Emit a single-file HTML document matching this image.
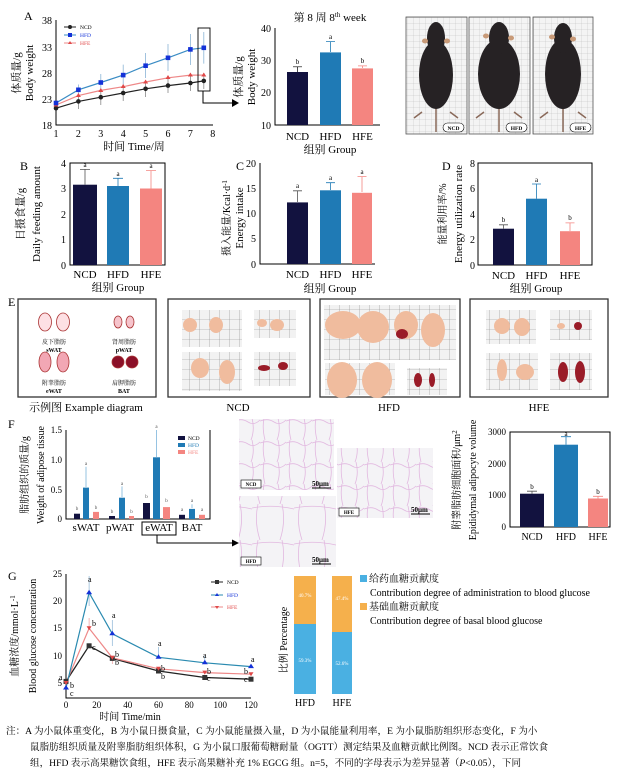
<!DOCTYPE html>
<html><head><meta charset="utf-8"><style>
body{margin:0;background:#fff}
svg{display:block;font-family:"Liberation Serif","Noto Serif CJK SC",serif}
</style></head><body>
<svg width="620" height="774" viewBox="0 0 620 774" xmlns="http://www.w3.org/2000/svg">
<defs>
<pattern id="grid" width="10" height="10" patternUnits="userSpaceOnUse"><rect width="10" height="10" fill="#f2f2f2"/><path d="M10 0V10H0" fill="none" stroke="#888" stroke-width="0.6"/></pattern>
<pattern id="mgrid" width="6" height="6" patternUnits="userSpaceOnUse"><rect width="6" height="6" fill="#f4f4f4"/><path d="M6 0V6H0" fill="none" stroke="#bbb" stroke-width="0.5"/></pattern>
<pattern id="cells" width="26" height="22" patternUnits="userSpaceOnUse"><rect width="26" height="22" fill="#f4f3f6"/><path d="M0 3Q8 0 14 4T26 2M4 0Q2 10 5 22M18 0Q21 12 17 22" fill="none" stroke="#e2b8e0" stroke-width="0.8"/></pattern>
<pattern id="cells2" width="42" height="36" patternUnits="userSpaceOnUse"><rect width="42" height="36" fill="#f4f3f6"/><path d="M0 4Q20 0 42 5M6 0Q2 18 8 36M30 0Q34 18 28 36" fill="none" stroke="#e2b8e0" stroke-width="0.8"/></pattern>
</defs>
<g font-size="11" fill="#000">
<!-- Panel A line -->
<text x="24" y="20" font-size="12">A</text>
<g stroke="#000" stroke-width="1" fill="none"><path d="M56 20V125H213"/></g>
<g font-size="10" text-anchor="end"><text x="52" y="24">38</text><text x="52" y="51">33</text><text x="52" y="77">28</text><text x="52" y="103">23</text><text x="52" y="129">18</text></g>
<g font-size="10" text-anchor="middle"><text x="56" y="137">1</text><text x="78.4" y="137">2</text><text x="100.8" y="137">3</text><text x="123.2" y="137">4</text><text x="145.6" y="137">5</text><text x="168" y="137">6</text><text x="190.4" y="137">7</text><text x="212.8" y="137">8</text></g>
<text x="134" y="150" text-anchor="middle">时间 Time/周</text>
<text transform="translate(20,73) rotate(-90)" text-anchor="middle">体质量/g</text>
<text transform="translate(33,73) rotate(-90)" text-anchor="middle">Body weight</text>
<g stroke="#8ab4d6" stroke-width="0.8"><path d="M78.4 84.5V95M100.8 74V91M123.2 64.6V85.6M145.6 53V78M168 44V71M190.4 34V65M203.8 32V63.6"/></g>
<g stroke="#888" stroke-width="0.8"><path d="M78.4 93.5V109M100.8 89V105M123.2 85V101M145.6 81V97M168 78V93M190.4 75V91M203.8 73V89"/></g>
<polyline points="56,108.2 78.4,101.4 100.8,97.2 123.2,93 145.6,88.8 168,85.6 190.4,83 203.8,80.9" fill="none" stroke="#222" stroke-width="1.2"/>
<polyline points="56,105 78.4,95.6 100.8,90.4 123.2,86.7 145.6,82 168,77.8 190.4,75.1 203.8,75.1" fill="none" stroke="#e88" stroke-width="1.2"/>
<polyline points="56,103 78.4,89.8 100.8,82.5 123.2,75.1 145.6,65.7 168,57.8 190.4,49.4 203.8,47.8" fill="none" stroke="#3a8cc4" stroke-width="1.2"/>
<g fill="#222"><circle cx="56" cy="108.2" r="2.3"/><circle cx="78.4" cy="101.4" r="2.3"/><circle cx="100.8" cy="97.2" r="2.3"/><circle cx="123.2" cy="93" r="2.3"/><circle cx="145.6" cy="88.8" r="2.3"/><circle cx="168" cy="85.6" r="2.3"/><circle cx="190.4" cy="83" r="2.3"/><circle cx="203.8" cy="80.9" r="2.3"/></g>
<g fill="#e04848"><path d="M56 102.5l2.5 4h-5zM78.4 93l2.5 4h-5zM100.8 88l2.5 4h-5zM123.2 84l2.5 4h-5zM145.6 79.5l2.5 4h-5zM168 75l2.5 4h-5zM190.4 72.5l2.5 4h-5zM203.8 72.5l2.5 4h-5z"/></g>
<g fill="#1432d8"><rect x="53.7" y="100.7" width="4.6" height="4.6"/><rect x="76.1" y="87.5" width="4.6" height="4.6"/><rect x="98.5" y="80.2" width="4.6" height="4.6"/><rect x="120.9" y="72.8" width="4.6" height="4.6"/><rect x="143.3" y="63.4" width="4.6" height="4.6"/><rect x="165.7" y="55.5" width="4.6" height="4.6"/><rect x="188.1" y="47.1" width="4.6" height="4.6"/><rect x="201.5" y="45.5" width="4.6" height="4.6"/></g>
<g font-size="5.5"><path d="M64 27h12" stroke="#222"/><circle cx="70" cy="27" r="2" fill="#222"/><text x="80" y="29">NCD</text>
<path d="M64 35h12" stroke="#3a8cc4"/><rect x="68" y="33" width="4" height="4" fill="#1432d8"/><text x="80" y="37" fill="#1432d8">HFD</text>
<path d="M64 43h12" stroke="#e88"/><path d="M70 41l2 3h-4z" fill="#e04848"/><text x="80" y="45" fill="#e04848">HFE</text></g>
<rect x="198" y="28" width="12" height="63" fill="none" stroke="#000" stroke-width="0.9"/>
<path d="M203 91V103H233" fill="none" stroke="#000" stroke-width="1"/><path d="M232 99l7 4-7 4z"/>
<!-- week 8 bar -->
<text x="330" y="21" text-anchor="middle" font-size="11">第 8 周  8<tspan font-size="7" dy="-4">th</tspan><tspan dy="4"> week</tspan></text>
<path d="M275 28V125H380" fill="none" stroke="#000"/>
<g font-size="10" text-anchor="end"><text x="271" y="32">40</text><text x="271" y="64">30</text><text x="271" y="96">20</text><text x="271" y="129">10</text></g>
<rect x="287" y="72" width="21" height="53" fill="#12123f"/><rect x="320" y="52.4" width="21" height="72.6" fill="#1f7ab5"/><rect x="352" y="68.4" width="21" height="56.6" fill="#f48580"/>
<g stroke="#000" stroke-width="0.7"><path d="M297.5 72V66.8M293 66.8h9"/></g><g stroke="#1f7ab5" stroke-width="0.8"><path d="M330.5 52V41.6M326 41.6h9"/></g><g stroke="#f48580" stroke-width="0.8"><path d="M362.5 68V65.9M358 65.9h9"/></g>
<g font-size="7" text-anchor="middle"><text x="297.5" y="64">b</text><text x="330.5" y="39">a</text><text x="362.5" y="63">b</text></g>
<g text-anchor="middle"><text x="297.5" y="140">NCD</text><text x="330.5" y="140">HFD</text><text x="362.5" y="140">HFE</text><text x="330" y="153">组别  Group</text></g>
<text transform="translate(242,77) rotate(-90)" text-anchor="middle">体质量/g</text>
<text transform="translate(255,77) rotate(-90)" text-anchor="middle">Body weight</text>
<!-- mice photo -->
<g fill="url(#mgrid)" stroke="#555" stroke-width="0.8"><rect x="406" y="17" width="61" height="117"/><rect x="469" y="17" width="61" height="117"/><rect x="533" y="17" width="60" height="117"/></g>
<g stroke="#8a6a5a" stroke-width="1.5" fill="none"><path d="M436 100V132M499 100V132M563 100V132M422 112l-8 6M450 112l8 6M484 112l-8 6M514 112l8 6M548 112l-8 6M578 112l8 6"/></g>
<g fill="#262224"><ellipse cx="436" cy="75" rx="17" ry="34"/><ellipse cx="436" cy="38" rx="9" ry="16"/><ellipse cx="499" cy="74" rx="21" ry="35"/><ellipse cx="499" cy="38" rx="10" ry="16"/><ellipse cx="563" cy="74" rx="18" ry="35"/><ellipse cx="563" cy="38" rx="9" ry="15"/></g>
<g fill="#c89a78"><ellipse cx="425" cy="41" rx="3" ry="2.5"/><ellipse cx="447" cy="41" rx="3" ry="2.5"/><ellipse cx="486" cy="36" rx="3" ry="2.5"/><ellipse cx="511" cy="38" rx="3" ry="2.5"/><ellipse cx="552" cy="37" rx="3" ry="2.5"/><ellipse cx="573" cy="39" rx="3" ry="2.5"/></g>
<g fill="#fff" stroke="#000" stroke-width="0.6"><rect x="443" y="123" width="21" height="9" rx="4.5"/><rect x="506" y="123" width="21" height="9" rx="4.5"/><rect x="570" y="123" width="21" height="9" rx="4.5"/></g>
<g font-size="5.5" text-anchor="middle" font-weight="bold"><text x="453.5" y="130">NCD</text><text x="516.5" y="130">HFD</text><text x="580.5" y="130">HFE</text></g>
<!-- B -->
<text x="20" y="170" font-size="12">B</text>
<rect x="70" y="163" width="95" height="102" fill="none" stroke="#000"/>
<g font-size="10" text-anchor="end"><text x="66" y="167">4</text><text x="66" y="192">3</text><text x="66" y="218">2</text><text x="66" y="243">1</text><text x="66" y="269">0</text></g>
<rect x="73" y="184.7" width="24" height="80.3" fill="#12123f"/><rect x="107" y="186" width="22" height="79" fill="#1f7ab5"/><rect x="140" y="188.5" width="22" height="76.5" fill="#f48580"/>
<g stroke-width="0.8"><path d="M85 184.7V169.4M80 169.4h10" stroke="#555"/><path d="M118 186V178.3M113 178.3h10" stroke="#1f7ab5"/><path d="M151 188.5V170.6M146 170.6h10" stroke="#f48580"/></g>
<g font-size="7" text-anchor="middle"><text x="85" y="167">a</text><text x="118" y="176">a</text><text x="151" y="168">a</text></g>
<g text-anchor="middle"><text x="85" y="278">NCD</text><text x="118" y="278">HFD</text><text x="151" y="278">HFE</text><text x="118" y="291">组别  Group</text></g>
<text transform="translate(24,214) rotate(-90)" text-anchor="middle">日摄食量/g</text>
<text transform="translate(40,214) rotate(-90)" text-anchor="middle">Daily feeding amount</text>
<!-- C -->
<text x="236" y="170" font-size="12">C</text>
<path d="M260 163V264H375" fill="none" stroke="#000"/>
<g font-size="10" text-anchor="end"><text x="256" y="167">20</text><text x="256" y="192">15</text><text x="256" y="217">10</text><text x="256" y="242">5</text><text x="256" y="268">0</text></g>
<rect x="287" y="202.4" width="21" height="61.6" fill="#12123f"/><rect x="320" y="190.3" width="21" height="73.7" fill="#1f7ab5"/><rect x="352" y="192.8" width="20" height="71.2" fill="#f48580"/>
<g stroke-width="0.8"><path d="M297.5 202V190.8M293 190.8h9" stroke="#555"/><path d="M330.5 190V182.7M326 182.7h9" stroke="#1f7ab5"/><path d="M362 192V176.6M357.5 176.6h9" stroke="#f48580"/></g>
<g font-size="7" text-anchor="middle"><text x="297.5" y="188">a</text><text x="330.5" y="180">a</text><text x="362" y="174">a</text></g>
<g text-anchor="middle"><text x="297.5" y="278">NCD</text><text x="330.5" y="278">HFD</text><text x="362" y="278">HFE</text><text x="330" y="292">组别  Group</text></g>
<text transform="translate(230,218) rotate(-90)" text-anchor="middle" font-size="10">摄入能量/Kcal·d<tspan font-size="7" dy="-3">-1</tspan></text>
<text transform="translate(243,218) rotate(-90)" text-anchor="middle">Energy intake</text>
<!-- D -->
<text x="442" y="170" font-size="12">D</text>
<rect x="478" y="163" width="114" height="102" fill="none" stroke="#000"/>
<g font-size="10" text-anchor="end"><text x="475" y="167">8</text><text x="475" y="192">6</text><text x="475" y="218">4</text><text x="475" y="243">2</text><text x="475" y="269">0</text></g>
<rect x="493" y="228.7" width="21" height="36.3" fill="#12123f"/><rect x="526" y="198.7" width="21" height="66.3" fill="#1f7ab5"/><rect x="560" y="231.2" width="20" height="33.8" fill="#f48580"/>
<g stroke-width="0.8"><path d="M503.5 228.7V224.8M499 224.8h9" stroke="#555"/><path d="M536.5 198.7V184M532 184h9" stroke="#1f7ab5"/><path d="M570 231V222.9M565.5 222.9h9" stroke="#f48580"/></g>
<g font-size="7" text-anchor="middle"><text x="503.5" y="222">b</text><text x="536.5" y="182">a</text><text x="570" y="220">b</text></g>
<g text-anchor="middle"><text x="503.5" y="279">NCD</text><text x="536.5" y="279">HFD</text><text x="570" y="279">HFE</text><text x="536" y="292">组别  Group</text></g>
<text transform="translate(446,214) rotate(-90)" text-anchor="middle" font-size="10">能量利用率/%</text>
<text transform="translate(462,214) rotate(-90)" text-anchor="middle">Energy utilization rate</text>
<!-- E -->
<text x="8" y="306" font-size="12">E</text>
<g fill="none" stroke="#333" stroke-width="1.3"><rect x="18" y="299" width="138" height="98"/><rect x="168" y="299" width="142" height="98"/><rect x="320" y="299" width="140" height="98"/><rect x="470" y="299" width="138" height="98"/></g>
<g stroke="#a33" stroke-width="0.8"><ellipse cx="45" cy="322" rx="6.5" ry="9" fill="#fde0e4"/><ellipse cx="63" cy="322" rx="6.5" ry="9" fill="#fde0e4"/><ellipse cx="118" cy="322" rx="4" ry="6" fill="#f6c4cc"/><ellipse cx="130" cy="322" rx="4" ry="6" fill="#f6c4cc"/><ellipse cx="45" cy="362" rx="6" ry="10" fill="#f2a7b4"/><ellipse cx="63" cy="362" rx="6" ry="10" fill="#f2a7b4"/><circle cx="118" cy="362" r="6" fill="#8b1028"/><circle cx="132" cy="362" r="6" fill="#8b1028"/></g>
<g font-size="6" text-anchor="middle"><text x="54" y="344">皮下脂肪</text><text x="54" y="352" font-weight="bold">sWAT</text><text x="124" y="344">肾周脂肪</text><text x="124" y="352" font-weight="bold">pWAT</text><text x="54" y="385">附睾脂肪</text><text x="54" y="393" font-weight="bold">eWAT</text><text x="124" y="385">肩胛脂肪</text><text x="124" y="393" font-weight="bold">BAT</text></g>
<g fill="url(#grid)"><rect x="182" y="310" width="60" height="37"/><rect x="254" y="310" width="42" height="28"/><rect x="182" y="352" width="60" height="39"/><rect x="254" y="352" width="42" height="34"/>
<rect x="324" y="305" width="132" height="55"/><rect x="325" y="363" width="70" height="32"/><rect x="407" y="368" width="40" height="27"/>
<rect x="486" y="310" width="50" height="34"/><rect x="550" y="310" width="42" height="30"/><rect x="486" y="353" width="52" height="37"/><rect x="550" y="353" width="42" height="37"/></g>
<g fill="#f0bc9e"><ellipse cx="190" cy="325" rx="7" ry="7"/><ellipse cx="216" cy="325" rx="7" ry="8"/><ellipse cx="262" cy="323" rx="5" ry="4"/><ellipse cx="277" cy="325" rx="7" ry="6"/><ellipse cx="200" cy="368" rx="9" ry="10"/><ellipse cx="227" cy="372" rx="8" ry="12"/>
<ellipse cx="343" cy="325" rx="18" ry="14"/><ellipse cx="373" cy="327" rx="16" ry="16"/><ellipse cx="406" cy="325" rx="12" ry="14"/><ellipse cx="433" cy="330" rx="12" ry="17"/><ellipse cx="342" cy="380" rx="15" ry="18"/><ellipse cx="377" cy="380" rx="15" ry="18"/>
<ellipse cx="502" cy="326" rx="8" ry="8"/><ellipse cx="522" cy="327" rx="8" ry="9"/><ellipse cx="502" cy="370" rx="5" ry="11"/><ellipse cx="525" cy="372" rx="9" ry="8"/><ellipse cx="561" cy="326" rx="4" ry="3"/></g>
<g fill="#9a1c28"><ellipse cx="264" cy="368" rx="6" ry="3"/><ellipse cx="283" cy="366" rx="5" ry="4"/><ellipse cx="418" cy="380" rx="4" ry="7"/><ellipse cx="432" cy="380" rx="3" ry="7"/><ellipse cx="402" cy="334" rx="6" ry="5"/><ellipse cx="578" cy="326" rx="4" ry="4"/><ellipse cx="563" cy="372" rx="5" ry="10"/><ellipse cx="580" cy="372" rx="5" ry="11"/></g>
<g text-anchor="middle"><text x="86" y="411">示例图  Example diagram</text><text x="238" y="411">NCD</text><text x="389" y="411">HFD</text><text x="539" y="411">HFE</text></g>
<!-- F -->
<text x="8" y="428" font-size="12">F</text>
<path d="M66 430V519H210V430" fill="none" stroke="#000"/>
<g font-size="9" text-anchor="end"><text x="62" y="433">1.5</text><text x="62" y="463">1.0</text><text x="62" y="493">0.5</text><text x="62" y="522">0</text></g>
<g fill="#12123f"><rect x="74" y="513.7" width="6" height="5.3"/><rect x="109" y="516" width="6" height="3"/><rect x="143" y="503" width="7" height="16"/><rect x="179" y="514.8" width="6" height="4.2"/></g>
<g fill="#1f7ab5"><rect x="83" y="487.6" width="6" height="31.4"/><rect x="119" y="497.7" width="6" height="21.3"/><rect x="153" y="457.3" width="7" height="61.7"/><rect x="189" y="508.9" width="6" height="10.1"/></g>
<g fill="#f48580"><rect x="93" y="511.9" width="6" height="7.1"/><rect x="129" y="516" width="5" height="3"/><rect x="163" y="507.1" width="7" height="11.9"/><rect x="199" y="514.8" width="6" height="4.2"/></g>
<g stroke="#6aaad6" stroke-width="0.7"><path d="M86 487V466.8M122 497V486.4M156.5 457V430M192 508V504.2"/></g>
<g font-size="5" text-anchor="middle" fill="#555"><text x="77" y="510">b</text><text x="86" y="465">a</text><text x="96" y="509">b</text><text x="112" y="513">b</text><text x="122" y="485">a</text><text x="131.5" y="513">b</text><text x="146.5" y="498">b</text><text x="156.5" y="428">a</text><text x="166.5" y="502">b</text><text x="182" y="511">a</text><text x="192" y="502">a</text><text x="202" y="511">a</text></g>
<g font-size="5.5"><rect x="178" y="436" width="7" height="4" fill="#12123f"/><text x="188" y="440">NCD</text><rect x="178" y="443" width="7" height="4" fill="#1f7ab5"/><text x="188" y="447" fill="#1f7ab5">HFD</text><rect x="178" y="450" width="7" height="4" fill="#f48580"/><text x="188" y="454" fill="#f48580">HFE</text></g>
<g text-anchor="middle" font-size="11"><text x="86" y="531">sWAT</text><text x="120" y="531">pWAT</text><text x="159" y="531">eWAT</text><text x="192" y="531">BAT</text></g>
<rect x="142" y="522" width="34" height="13" fill="none" stroke="#000"/>
<path d="M157 535V543H233" fill="none" stroke="#000"/><path d="M232 539.5l7 3.5-7 3.5z"/>
<text transform="translate(28,475) rotate(-90)" text-anchor="middle" font-size="10">脂肪组织的质量/g</text>
<text transform="translate(44,475) rotate(-90)" text-anchor="middle" font-size="10">Weight of adipose tissue</text>
<rect x="239" y="419" width="95" height="71" fill="url(#cells)"/>
<rect x="337" y="448" width="96" height="70" fill="url(#cells)"/>
<rect x="239" y="496" width="97" height="71" fill="url(#cells2)"/>
<g fill="#fff" stroke="#000" stroke-width="0.6"><rect x="241" y="480" width="20" height="8"/><rect x="339" y="508" width="20" height="8"/><rect x="241" y="557" width="20" height="8"/></g>
<g font-size="5" font-weight="bold" text-anchor="middle"><text x="251" y="486">NCD</text><text x="349" y="514">HFE</text><text x="251" y="563">HFD</text></g>
<g font-size="7" font-weight="bold"><text x="312" y="486">50μm</text><text x="411" y="512">50μm</text><text x="312" y="562">50μm</text></g>
<g stroke="#000"><path d="M312 488h19M411 514h19M312 564h19"/></g>
<!-- adipocyte -->
<rect x="510" y="432" width="100" height="95" fill="none" stroke="#000"/>
<g font-size="9" text-anchor="end"><text x="506" y="435">3000</text><text x="506" y="467">2000</text><text x="506" y="498">1000</text><text x="506" y="530">0</text></g>
<rect x="520" y="493.7" width="24" height="33.3" fill="#12123f"/><rect x="554" y="444.7" width="24" height="82.3" fill="#1f7ab5"/><rect x="588" y="498.5" width="20" height="28.5" fill="#f48580"/>
<g stroke-width="0.8"><path d="M532 493.7V491.2M527 491.2h10" stroke="#555"/><path d="M566 444.7V436.7M561 436.7h10" stroke="#1f7ab5"/><path d="M598 498.5V496.3M593 496.3h10" stroke="#f48580"/></g>
<g font-size="7" text-anchor="middle"><text x="532" y="489">b</text><text x="566" y="436">a</text><text x="598" y="494">b</text></g>
<g text-anchor="middle" font-size="10"><text x="532" y="540">NCD</text><text x="566" y="540">HFD</text><text x="598" y="540">HFE</text></g>
<text transform="translate(460,480) rotate(-90)" text-anchor="middle" font-size="10">附睾脂肪细胞面积/μm<tspan font-size="7" dy="-3">2</tspan></text>
<text transform="translate(476,480) rotate(-90)" text-anchor="middle" font-size="10">Epididymal adipocyte volume</text>
<!-- G -->
<text x="8" y="580" font-size="12">G</text>
<path d="M66 574V698H251" fill="none" stroke="#000"/>
<g font-size="9" text-anchor="end"><text x="62" y="577">25</text><text x="62" y="604">20</text><text x="62" y="631">15</text><text x="62" y="659">10</text><text x="62" y="686">5</text></g>
<g font-size="9" text-anchor="middle"><text x="66" y="708">0</text><text x="96.8" y="708">20</text><text x="127.7" y="708">40</text><text x="158.5" y="708">60</text><text x="189.3" y="708">80</text><text x="220.2" y="708">100</text><text x="251" y="708">120</text></g>
<text x="130" y="720" text-anchor="middle" font-size="10">时间  Time/min</text>
<text transform="translate(18,636) rotate(-90)" text-anchor="middle" font-size="10">血糖浓度/mmol·L<tspan font-size="7" dy="-3">-1</tspan></text>
<text transform="translate(36,636) rotate(-90)" text-anchor="middle" font-size="10">Blood glucose concentration</text>
<g stroke="#8ab4d6" stroke-width="0.7"><path d="M89.1 592.7V576M112.3 633.8V620M158.5 657.3V647M204.8 662.8V656M89.1 592.7V606M112.3 633.8V646"/></g>
<g stroke="#e99" stroke-width="0.7"><path d="M89.1 628.3V618M112.3 657.8V664"/></g>
<polyline points="66,681.4 89.1,645.8 112.3,658.4 158.5,671 204.8,677.5 251,679.2" fill="none" stroke="#222" stroke-width="1.3"/>
<polyline points="66,683 89.1,628.3 112.3,657.8 158.5,668.8 204.8,672.6 251,674.2" fill="none" stroke="#e88" stroke-width="1.2"/>
<polyline points="66,687.9 89.1,592.7 112.3,633.8 158.5,657.3 204.8,662.8 251,666.6" fill="none" stroke="#2a8ab0" stroke-width="1.2"/>
<g fill="#333"><rect x="63.5" y="678.9" width="5" height="5"/><rect x="86.6" y="643.3" width="5" height="5"/><rect x="109.8" y="655.9" width="5" height="5"/><rect x="156" y="668.5" width="5" height="5"/><rect x="202.3" y="675" width="5" height="5"/><rect x="248.5" y="676.7" width="5" height="5"/></g>
<g fill="#e04848"><path d="M63.5 681h5l-2.5 4zM86.6 626.3h5l-2.5 4zM109.8 655.8h5l-2.5 4zM156 666.8h5l-2.5 4zM202.3 670.6h5l-2.5 4zM248.5 672.2h5l-2.5 4z"/></g>
<g fill="#1432d8"><path d="M66 685l3 4.5h-6zM89.1 589.7l3 4.5h-6zM112.3 630.8l3 4.5h-6zM158.5 654.3l3 4.5h-6zM204.8 659.8l3 4.5h-6zM251 663.6l3 4.5h-6z"/></g>
<g font-size="8"><text x="59" y="680">a</text><text x="70" y="688">b</text><text x="70" y="696">c</text><text x="88" y="582">a</text><text x="92" y="626">b</text><text x="92" y="650">c</text><text x="112" y="618">a</text><text x="115" y="657">b</text><text x="115" y="665">b</text><text x="158" y="646">a</text><text x="161" y="671">b</text><text x="161" y="679">b</text><text x="203" y="658">a</text><text x="207" y="674">b</text><text x="207" y="681">c</text><text x="251" y="662">a</text><text x="244" y="674">b</text><text x="244" y="682">c</text></g>
<g font-size="5.5"><path d="M211 582h12" stroke="#222"/><rect x="215" y="580" width="4" height="4" fill="#333"/><text x="227" y="584">NCD</text><path d="M211 595h12" stroke="#2a8ab0"/><path d="M217 593l2 3h-4z" fill="#1432d8"/><text x="227" y="597" fill="#1432d8">HFD</text><path d="M211 607h12" stroke="#e88"/><path d="M215 606h4l-2 3z" fill="#e04848"/><text x="227" y="609" fill="#e04848">HFE</text></g>
<!-- stacked -->
<rect x="294" y="576" width="22" height="48" fill="#f5b04c"/><rect x="294" y="624" width="22" height="70" fill="#4ab0e2"/>
<rect x="332" y="576" width="20" height="56" fill="#f5b04c"/><rect x="332" y="632" width="20" height="62" fill="#4ab0e2"/>
<g font-size="5" fill="#fff" text-anchor="middle"><text x="305" y="597">40.7%</text><text x="342" y="600">47.4%</text><text x="305" y="662">59.3%</text><text x="342" y="665">52.6%</text></g>
<g text-anchor="middle" font-size="10"><text x="305" y="706">HFD</text><text x="342" y="706">HFE</text></g>
<text transform="translate(287,640) rotate(-90)" text-anchor="middle" font-size="10">比例  Percentage</text>
<rect x="360" y="575" width="7" height="7" fill="#4ab0e2"/><text x="369" y="582" font-size="10">给药血糖贡献度</text>
<text x="370" y="596" font-size="10">Contribution degree of administration to blood glucose</text>
<rect x="360" y="603" width="7" height="7" fill="#f5b04c"/><text x="369" y="610" font-size="10">基础血糖贡献度</text>
<text x="370" y="624" font-size="10">Contribution degree of basal blood glucose</text>
<!-- caption -->
<g font-size="9.6"><text x="6" y="734">注：A 为小鼠体重变化，B 为小鼠日摄食量，C 为小鼠能量摄入量，D 为小鼠能量利用率，E 为小鼠脂肪组织形态变化，F 为小</text>
<text x="30" y="750">鼠脂肪组织质量及附睾脂肪组织体积，G 为小鼠口服葡萄糖耐量（OGTT）测定结果及血糖贡献比例图。NCD 表示正常饮食</text>
<text x="30" y="766">组，HFD 表示高果糖饮食组，HFE 表示高果糖补充 1% EGCG 组。n=5，不同的字母表示为差异显著（<tspan font-style="italic">P</tspan>&lt;0.05），下同</text></g>
</g>
</svg>
</body></html>
